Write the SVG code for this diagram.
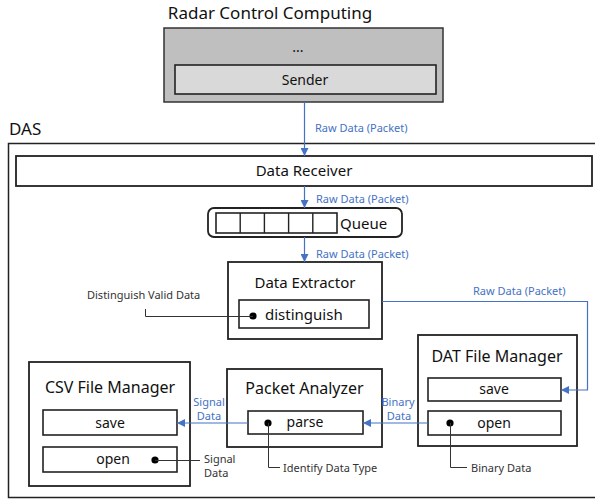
<svg xmlns="http://www.w3.org/2000/svg" width="595" height="502" viewBox="0 0 595 502">
<style>
text{font-family:"Noto Sans","Open Sans","Liberation Sans",sans-serif;fill:#111}
.t{font-size:16px;text-anchor:middle}
.m{font-size:15px;text-anchor:middle}
.i{font-size:14px;text-anchor:middle}
.b{font-size:11px;fill:#4472c4}
.bc{font-size:11px;fill:#4472c4;text-anchor:middle}
.a{font-size:11px;fill:#333}
.box{fill:#fff;stroke:#222;stroke-width:1.8}
.ibox{fill:#fff;stroke:#222;stroke-width:1.6}
.blue{fill:none;stroke:#4472c4;stroke-width:1.2}
.lead{fill:none;stroke:#333;stroke-width:1}
.dot{fill:#000}
</style>
<defs>
<marker id="arr" viewBox="0 0 10 10" refX="10" refY="5" markerWidth="8" markerHeight="8" markerUnits="userSpaceOnUse" orient="auto"><path d="M0,0 L10,5 L0,10 z" fill="#4472c4"/></marker>
</defs>
<rect width="595" height="502" fill="#fff"/>

<g id="radar">
<text x="270" y="19" style="font-size:17px;text-anchor:middle">Radar Control Computing</text>
<rect x="164" y="28" width="279" height="74" fill="#bfbfbf" stroke="#333" stroke-width="1.5"/>
<text x="298" y="52" class="i">...</text>
</g>
<g id="sender">
<rect x="175" y="65" width="261" height="29" fill="#d9d9d9" stroke="#222" stroke-width="1.6"/>
<text x="305" y="85" class="i">Sender</text>
</g>

<g id="das">
<text x="9" y="135" style="font-size:17px">DAS</text>
<rect x="8.5" y="143.5" width="590" height="354" fill="none" stroke="#222" stroke-width="1.5"/>
</g>

<g id="data-receiver">
<rect x="16" y="156" width="576" height="30" class="box"/>
<text x="304" y="176" class="m">Data Receiver</text>
</g>

<g id="queue">
<rect x="208" y="208" width="194" height="29" rx="6" class="box"/>
<rect x="216" y="213" width="121" height="20" class="ibox"/>
<path d="M240.2,213v20M264.4,213v20M288.6,213v20M312.8,213v20" stroke="#222" stroke-width="1.4" fill="none"/>
<text x="340" y="229" style="font-size:15px">Queue</text>
</g>

<g id="data-extractor">
<rect x="228" y="262" width="154" height="77" class="box"/>
<text x="305" y="288" class="m">Data Extractor</text>
<rect x="239" y="300" width="130" height="28" class="ibox"/>
<text x="265" y="320" style="font-size:15px">distinguish</text>
<circle cx="253" cy="316" r="3.6" class="dot"/>
</g>

<g id="dat-file-manager">
<rect x="418" y="335" width="159" height="111" class="box"/>
<text x="497" y="362" class="t">DAT File Manager</text>
<rect x="428" y="378" width="133" height="23" class="ibox"/>
<text x="494" y="394" class="i">save</text>
<rect x="428" y="411" width="133" height="24" class="ibox"/>
<text x="494" y="428" class="i">open</text>
<circle cx="450" cy="423" r="3.6" class="dot"/>
</g>

<g id="packet-analyzer">
<rect x="227" y="369" width="155" height="78" class="box"/>
<text x="304.5" y="394" class="t">Packet Analyzer</text>
<rect x="248" y="411" width="115" height="23" class="ibox"/>
<text x="305" y="427" class="i">parse</text>
<circle cx="268" cy="423" r="3.6" class="dot"/>
</g>

<g id="csv-file-manager">
<rect x="29" y="362" width="161" height="124" class="box"/>
<text x="110" y="393" class="t">CSV File Manager</text>
<rect x="43" y="410" width="134" height="25" class="ibox"/>
<text x="110" y="428" class="i">save</text>
<rect x="43" y="447" width="134" height="25" class="ibox"/>
<text x="113" y="464" class="i">open</text>
<circle cx="155" cy="460" r="3.6" class="dot"/>
</g>

<g id="connectors">
<line x1="304.5" y1="102" x2="304.5" y2="156" class="blue" marker-end="url(#arr)"/>
<text x="315" y="132" class="b">Raw Data (Packet)</text>
<line x1="304.5" y1="186" x2="304.5" y2="208" class="blue" marker-end="url(#arr)"/>
<text x="316" y="203" class="b">Raw Data (Packet)</text>
<line x1="304.5" y1="237" x2="304.5" y2="262" class="blue" marker-end="url(#arr)"/>
<text x="316" y="258" class="b">Raw Data (Packet)</text>
<path d="M382,301.5H587.5V390H561" class="blue" marker-end="url(#arr)"/>
<text x="473" y="295" class="b">Raw Data (Packet)</text>
<line x1="428" y1="423" x2="363" y2="423" class="blue" marker-end="url(#arr)"/>
<text x="398" y="406" class="bc">Binary</text>
<text x="399" y="420" class="bc">Data</text>
<line x1="248" y1="423" x2="177" y2="423" class="blue" marker-end="url(#arr)"/>
<text x="209" y="406" class="bc">Signal</text>
<text x="209" y="420" class="bc">Data</text>

<path d="M145.5,309V316.5H253" class="lead"/>
<text x="87" y="299" class="a">Distinguish Valid Data</text>
<path d="M268.5,423V467.5H280" class="lead"/>
<text x="283" y="472" class="a">Identify Data Type</text>
<path d="M450.5,423V467.5H467" class="lead"/>
<text x="471" y="472" class="a">Binary Data</text>
<path d="M155,460.5H200" class="lead"/>
<text x="204" y="463" class="a">Signal</text>
<text x="204" y="477" class="a">Data</text>
</g>
</svg>
